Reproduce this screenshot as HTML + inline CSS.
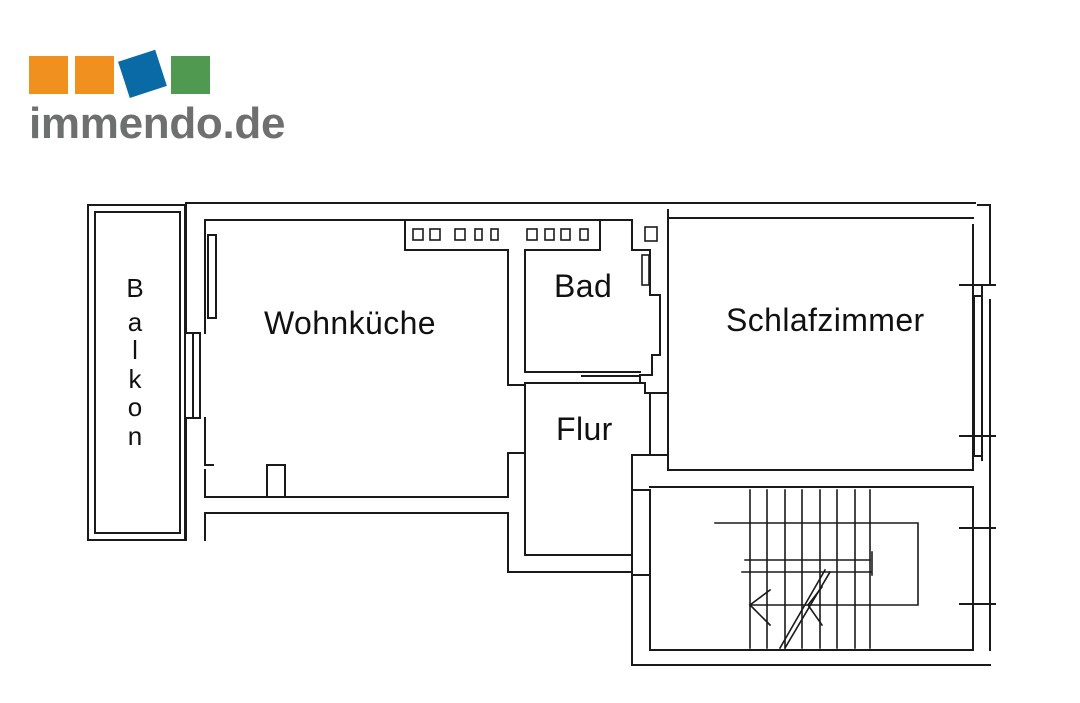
<!DOCTYPE html>
<html><head><style>
html,body{margin:0;padding:0;background:#fff;}
.w{position:relative;width:1080px;height:703px;overflow:hidden;background:#fff;}
svg{position:absolute;left:0;top:0;}
</style></head><body><div class="w">
<svg width="1080" height="703" viewBox="0 0 1080 703">
<rect x="29" y="56" width="39" height="38" fill="#f0901f"/>
<rect x="75" y="56" width="39" height="38" fill="#f0901f"/>
<rect x="123" y="55" width="39" height="38" fill="#0a6aa6" transform="rotate(-18 142 74)"/>
<rect x="171" y="56" width="39" height="38" fill="#4f9a50"/>
<text x="29" y="138" font-family="Liberation Sans, sans-serif" font-weight="bold" font-size="44" fill="#6d706f" letter-spacing="-0.3">immendo.de</text>

<g stroke="#1a1a1a" stroke-width="2" fill="none" stroke-linecap="square">
<rect x="88" y="205" width="97" height="335"/>
<rect x="95" y="212" width="85" height="321"/>
<path d="M186 203 H975"/>
<path d="M186 203 V333 H200 V418 H186 V540"/>
<path d="M193 333 V418 M200 333 V418"/>
<path d="M205 220 V333 M205 418 V465 H213 M205 470 V497 H508 V453 H525"/>
<path d="M205 220 H405 V250 H508 V385 H525 M525 250 V372"/>
<rect x="208" y="235" width="8" height="83"/>
<path d="M267 497 V465 H285 V497"/>
<path d="M405 220 H600 V250 H525"/>
<g stroke-width="1.6">
<rect x="413" y="229" width="10" height="11"/><rect x="430" y="229" width="10" height="11"/><rect x="455" y="229" width="10" height="11"/><rect x="475" y="229" width="7" height="11"/><rect x="491" y="229" width="7" height="11"/>
<rect x="527" y="229" width="10" height="11"/><rect x="545" y="229" width="9" height="11"/><rect x="561" y="229" width="9" height="11"/><rect x="580" y="229" width="8" height="11"/>
<rect x="645" y="227" width="12" height="14"/>
<rect x="642" y="255" width="7" height="30"/>
</g>
<path d="M600 220 H632 V250 H650 V295 H660 V355 H652 V375 H640 V383 H645 V393 H668"/>
<path d="M525 372 H640 M525 383 H640 M582 376 H640"/>
<path d="M508 513 H205 V540"/>
<path d="M508 513 V572 H632"/>
<path d="M525 383 V555 H632"/>
<path d="M650 393 V455 H668 V470"/>
<path d="M650 455 H632 V490 H650 V650"/>
<path d="M632 490 V575 M632 575 H650 M632 575 V665 M632 665 H990"/>
<path d="M668 218 V470 H973 V225 M668 218 H973"/>
<path d="M668 210 V455"/>
<path d="M978 205 H990 V285 M982 285 V460 M990 300 V650"/>
<rect x="974" y="296" width="8" height="160"/>
<path d="M960 285 H995 M960 436 H995 M960 528 H995 M960 604 H995"/>
<path d="M650 487 H973 V650 H650"/>
<g stroke-width="1.6">
<path d="M750 490 V648 M767 490 V648 M785 490 V648 M802 490 V648 M820 490 V648 M837 490 V648 M855 490 V648 M870 490 V648"/>
<path d="M715 523 H918 V605 H750"/>
<path d="M745 560 H870 M742 572 H872 M872 552 V575"/>
<path d="M780 648 L825 570 M785 648 L830 572"/>
<path d="M770 590 L750 605 L770 625 M822 587 L808 605 L822 625"/>
</g>
</g>

<g font-family="Liberation Sans, sans-serif" font-size="26" fill="#111" text-anchor="middle">
<text x="135" y="297">B</text><text x="135" y="331">a</text><text x="135" y="359">l</text><text x="135" y="388">k</text><text x="135" y="416">o</text><text x="135" y="445">n</text>
</g>
<g font-family="Liberation Sans, sans-serif" font-size="32" fill="#111" letter-spacing="0.4">
<text x="264" y="334">Wohnküche</text>
<text x="554" y="297">Bad</text>
<text x="556" y="440">Flur</text>
<text x="726" y="331">Schlafzimmer</text>
</g>
</svg>
</div></body></html>
